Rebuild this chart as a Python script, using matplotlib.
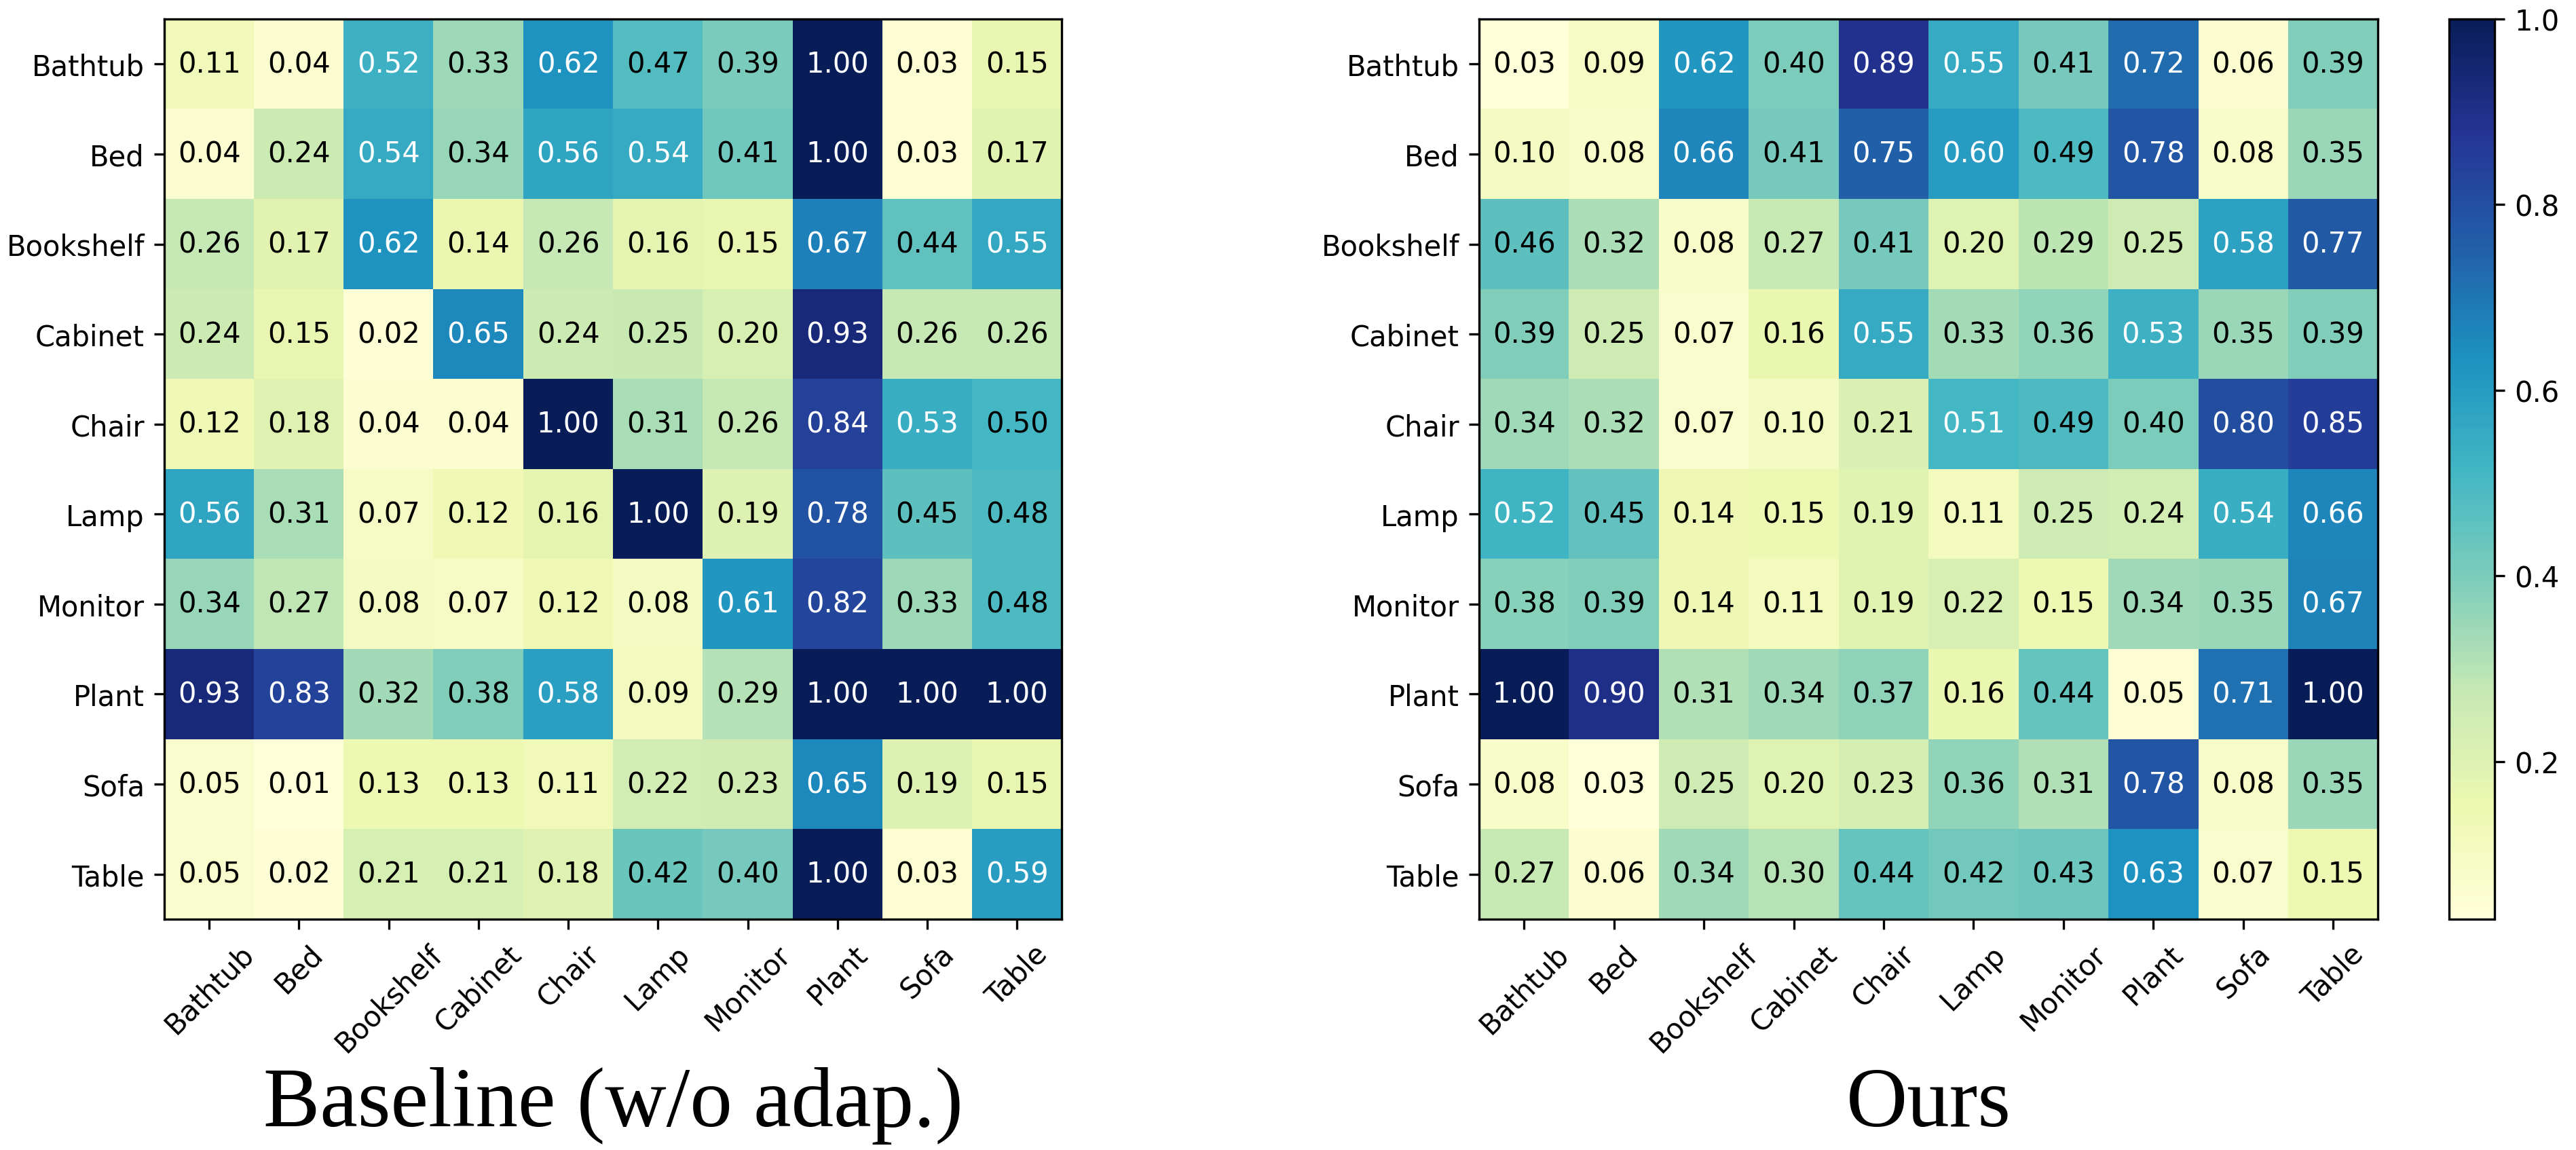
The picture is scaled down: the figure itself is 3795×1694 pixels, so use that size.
import numpy as np
import matplotlib
matplotlib.use("Agg")
import matplotlib.pyplot as plt

# class names (rows = true, cols = predicted)
classes = ["Bathtub", "Bed", "Bookshelf", "Cabinet", "Chair",
           "Lamp", "Monitor", "Plant", "Sofa", "Table"]

# Baseline (w/o adap.)
baseline = [
    [0.11, 0.04, 0.52, 0.33, 0.62, 0.47, 0.39, 1.00, 0.03, 0.15],
    [0.04, 0.24, 0.54, 0.34, 0.56, 0.54, 0.41, 1.00, 0.03, 0.17],
    [0.26, 0.17, 0.62, 0.14, 0.26, 0.16, 0.15, 0.67, 0.44, 0.55],
    [0.24, 0.15, 0.02, 0.65, 0.24, 0.25, 0.20, 0.93, 0.26, 0.26],
    [0.12, 0.18, 0.04, 0.04, 1.00, 0.31, 0.26, 0.84, 0.53, 0.50],
    [0.56, 0.31, 0.07, 0.12, 0.16, 1.00, 0.19, 0.78, 0.45, 0.48],
    [0.34, 0.27, 0.08, 0.07, 0.12, 0.08, 0.61, 0.82, 0.33, 0.48],
    [0.93, 0.83, 0.32, 0.38, 0.58, 0.09, 0.29, 1.00, 1.00, 1.00],
    [0.05, 0.01, 0.13, 0.13, 0.11, 0.22, 0.23, 0.65, 0.19, 0.15],
    [0.05, 0.02, 0.21, 0.21, 0.18, 0.42, 0.40, 1.00, 0.03, 0.59],
]

# Ours
ours = [
    [0.03, 0.09, 0.62, 0.40, 0.89, 0.55, 0.41, 0.72, 0.06, 0.39],
    [0.10, 0.08, 0.66, 0.41, 0.75, 0.60, 0.49, 0.78, 0.08, 0.35],
    [0.46, 0.32, 0.08, 0.27, 0.41, 0.20, 0.29, 0.25, 0.58, 0.77],
    [0.39, 0.25, 0.07, 0.16, 0.55, 0.33, 0.36, 0.53, 0.35, 0.39],
    [0.34, 0.32, 0.07, 0.10, 0.21, 0.51, 0.49, 0.40, 0.80, 0.85],
    [0.52, 0.45, 0.14, 0.15, 0.19, 0.11, 0.25, 0.24, 0.54, 0.66],
    [0.38, 0.39, 0.14, 0.11, 0.19, 0.22, 0.15, 0.34, 0.35, 0.67],
    [1.00, 0.90, 0.31, 0.34, 0.37, 0.16, 0.44, 0.05, 0.71, 1.00],
    [0.08, 0.03, 0.25, 0.20, 0.23, 0.36, 0.31, 0.78, 0.08, 0.35],
    [0.27, 0.06, 0.34, 0.30, 0.44, 0.42, 0.43, 0.63, 0.07, 0.15],
]

titles = ["Baseline (w/o adap.)", "Ours"]

fig = plt.figure(figsize=(12.65, 5.6499), dpi=300)
ax1 = fig.add_axes([0.0638, 0.2006, 0.3484, 0.7823])
ax2 = fig.add_axes([0.5742, 0.2006, 0.3489, 0.7823])
cax = fig.add_axes([0.9507, 0.2006, 0.0177, 0.7823])

for ax, mat, title in zip([ax1, ax2], [baseline, ours], titles):
    cm = np.array(mat)
    im = ax.imshow(cm, cmap="YlGnBu", aspect="auto", interpolation="nearest")
    n = len(classes)
    ax.set_xticks(np.arange(n))
    ax.set_yticks(np.arange(n))
    ax.set_xticklabels(classes, rotation=45, fontsize=10)
    ax.set_yticklabels(classes, fontsize=10)
    # write the numbers in each cell
    for i in range(n):
        for j in range(n):
            color = "white" if cm[i, j] > 0.5 else "black"
            ax.text(j, i, "%.2f" % cm[i, j], ha="center", va="center",
                    color=color, fontsize=10)
    # big serif caption under each matrix
    pos = ax.get_position()
    fig.text((pos.x0 + pos.x1) / 2, 0.021, title, ha="center", va="baseline",
             fontsize=30, family="Liberation Serif")

cb = fig.colorbar(im, cax=cax)
cb.set_ticks([0.2, 0.4, 0.6, 0.8, 1.0])
cb.ax.tick_params(labelsize=10)

fig.savefig("out.png", dpi=300)
